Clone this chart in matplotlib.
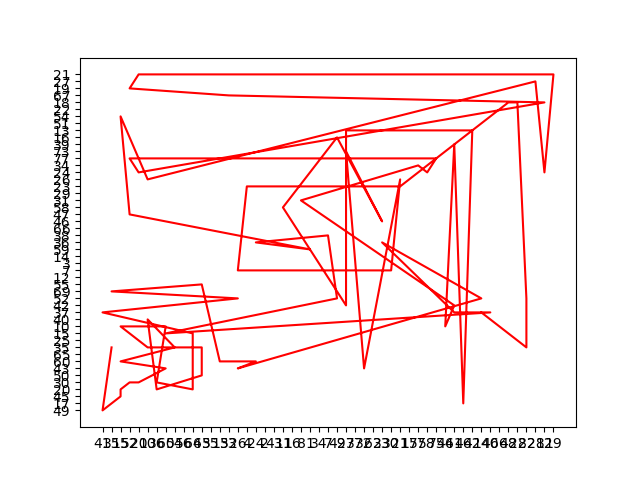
import matplotlib
matplotlib.use("Agg")
import matplotlib.pyplot as plt

# category order (order of first appearance on each axis)
x_labels = ["41","35","15","52","20","10","36","60","54","56","64","63","55","13",
            "53","26","4","24","2","43","11","16","8","1","34","7","49","27","37",
            "32","62","33","30","21","17","57","58","75","44","61","46","42","14",
            "40","66","48","22","82","28","12","19"]
y_labels = ["49","17","45","20","30","50","43","60","65","35","25","15","10","40",
            "37","42","52","69","55","12","7","3","14","59","36","38","66","46",
            "47","58","31","29","23","26","24","34","77","73","39","16","13","51",
            "54","22","18","67","19","27","21"]

x_vals = ["35","41","35","15","15","52","20","60","15","54","10","36","63","63","10",
          "15","60","36","64","64","41","26","35","63","13","24","26","14","33","61",
          "40","60","49","7","24","1","52","15","10","28","12","19","20","52","53",
          "12","20","52","75","58","57","8","61","44","61","46","42","27","27","11",
          "49","33","27","32","21","30","26","4","21","48","22","82","82","14"]
y_vals = ["35","49","17","45","20","30","30","43","60","35","40","20","50","35","35",
          "10","10","30","20","15","37","52","69","55","60","60","43","52","36","37",
          "37","15","52","38","36","59","47","54","26","27","24","21","21","19","67",
          "18","24","77","77","24","34","31","42","10","39","17","13","13","42","58",
          "16","46","73","43","26","7","7","23","23","18","18","52","35","37"]

fig, ax = plt.subplots(figsize=(6.4, 4.8), dpi=100)
# register categories in their order of appearance
ax.plot(x_labels, [y_labels[0]] * len(x_labels), alpha=0)
ax.plot([x_labels[0]] * len(y_labels), y_labels, alpha=0)
ax.plot(x_vals, y_vals, color="red")
fig.savefig("out.png")
